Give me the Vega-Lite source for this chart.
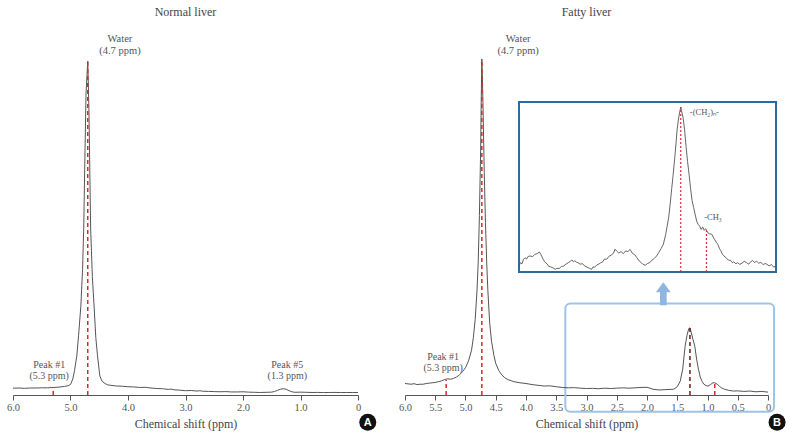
{
  "$schema": "https://vega.github.io/schema/vega-lite/v6.json",
  "padding": {"left": 6, "top": 5, "right": 4, "bottom": 0},
  "background": "white",
  "spacing": 47,
  "bounds": "flush",
  "config": {
    "view": {"stroke": null},
    "font": "Liberation Serif",
    "axis": {"grid": false},
    "axisX": {
      "domainColor": "#555", "tickColor": "#555", "tickSize": 5, "domainWidth": 1, "labelFlush": false, "labelOverlap": false,
      "labelFont": "Liberation Serif", "labelFontSize": 10.5, "labelColor": "#555", "labelPadding": 2,
      "titleFont": "Liberation Serif", "titleFontSize": 12, "titleFontWeight": "normal", "titleColor": "#444", "titlePadding": 6
    },
    "title": {"font": "Liberation Serif", "fontSize": 12, "fontWeight": "normal", "color": "#444", "baseline": "bottom", "offset": 15}
  },
  "datasets": {
    "normal": [
      {"ppm": 6.0, "signal": 1.9}, {"ppm": 5.9, "signal": 1.95}, {"ppm": 5.8, "signal": 1.85}, {"ppm": 5.7, "signal": 1.95},
      {"ppm": 5.6, "signal": 1.95}, {"ppm": 5.5, "signal": 2.0}, {"ppm": 5.4, "signal": 2.0}, {"ppm": 5.3, "signal": 2.1},
      {"ppm": 5.2, "signal": 2.2}, {"ppm": 5.1, "signal": 2.4}, {"ppm": 5.04, "signal": 2.6}, {"ppm": 5.0, "signal": 2.9},
      {"ppm": 4.96, "signal": 4.5}, {"ppm": 4.93, "signal": 6.8}, {"ppm": 4.89, "signal": 10.9}, {"ppm": 4.86, "signal": 16.5},
      {"ppm": 4.82, "signal": 24.8}, {"ppm": 4.79, "signal": 35}, {"ppm": 4.77, "signal": 46.5}, {"ppm": 4.75, "signal": 66},
      {"ppm": 4.73, "signal": 84}, {"ppm": 4.70, "signal": 93}, {"ppm": 4.68, "signal": 80}, {"ppm": 4.65, "signal": 46.5},
      {"ppm": 4.62, "signal": 33}, {"ppm": 4.59, "signal": 24.8}, {"ppm": 4.56, "signal": 16}, {"ppm": 4.53, "signal": 10.9},
      {"ppm": 4.49, "signal": 5.3}, {"ppm": 4.45, "signal": 3.8}, {"ppm": 4.40, "signal": 3.2}, {"ppm": 4.35, "signal": 2.8},
      {"ppm": 4.30, "signal": 2.7}, {"ppm": 4.2, "signal": 2.5}, {"ppm": 4.1, "signal": 2.45}, {"ppm": 4.0, "signal": 2.3},
      {"ppm": 3.9, "signal": 2.25}, {"ppm": 3.8, "signal": 2.1}, {"ppm": 3.7, "signal": 2.15}, {"ppm": 3.6, "signal": 1.95},
      {"ppm": 3.5, "signal": 1.8}, {"ppm": 3.4, "signal": 1.75}, {"ppm": 3.3, "signal": 1.55}, {"ppm": 3.25, "signal": 1.65},
      {"ppm": 3.2, "signal": 1.45}, {"ppm": 3.1, "signal": 1.35}, {"ppm": 3.0, "signal": 1.2}, {"ppm": 2.9, "signal": 1.25},
      {"ppm": 2.8, "signal": 1.1}, {"ppm": 2.75, "signal": 1.2}, {"ppm": 2.7, "signal": 1.05}, {"ppm": 2.6, "signal": 1.0},
      {"ppm": 2.5, "signal": 0.95}, {"ppm": 2.4, "signal": 0.9}, {"ppm": 2.3, "signal": 0.95}, {"ppm": 2.2, "signal": 0.85},
      {"ppm": 2.1, "signal": 0.85}, {"ppm": 2.0, "signal": 0.9}, {"ppm": 1.9, "signal": 0.8}, {"ppm": 1.8, "signal": 0.75},
      {"ppm": 1.7, "signal": 0.7}, {"ppm": 1.6, "signal": 0.75}, {"ppm": 1.5, "signal": 0.8}, {"ppm": 1.45, "signal": 1.0},
      {"ppm": 1.4, "signal": 1.3}, {"ppm": 1.35, "signal": 1.6}, {"ppm": 1.3, "signal": 1.75}, {"ppm": 1.25, "signal": 1.6},
      {"ppm": 1.2, "signal": 1.2}, {"ppm": 1.15, "signal": 0.9}, {"ppm": 1.1, "signal": 0.75}, {"ppm": 1.0, "signal": 0.8},
      {"ppm": 0.9, "signal": 0.75}, {"ppm": 0.8, "signal": 0.7}, {"ppm": 0.7, "signal": 0.72}, {"ppm": 0.6, "signal": 0.68},
      {"ppm": 0.5, "signal": 0.7}, {"ppm": 0.4, "signal": 0.72}, {"ppm": 0.3, "signal": 0.68}, {"ppm": 0.2, "signal": 0.7},
      {"ppm": 0.1, "signal": 0.7}, {"ppm": 0.0, "signal": 0.7}
    ],
    "fatty": [
      {"ppm": 6.0, "signal": 3.2}, {"ppm": 5.95, "signal": 3.1}, {"ppm": 5.9, "signal": 3.0}, {"ppm": 5.85, "signal": 3.15},
      {"ppm": 5.8, "signal": 2.9}, {"ppm": 5.75, "signal": 3.0}, {"ppm": 5.7, "signal": 3.0}, {"ppm": 5.65, "signal": 3.2},
      {"ppm": 5.6, "signal": 3.3}, {"ppm": 5.55, "signal": 3.4}, {"ppm": 5.5, "signal": 3.5}, {"ppm": 5.45, "signal": 3.7},
      {"ppm": 5.4, "signal": 3.9}, {"ppm": 5.35, "signal": 4.3}, {"ppm": 5.3, "signal": 4.5}, {"ppm": 5.25, "signal": 4.4},
      {"ppm": 5.2, "signal": 4.6}, {"ppm": 5.15, "signal": 5.0}, {"ppm": 5.1, "signal": 5.6}, {"ppm": 5.05, "signal": 6.5},
      {"ppm": 5.0, "signal": 7.6}, {"ppm": 4.95, "signal": 9.5}, {"ppm": 4.9, "signal": 12.5}, {"ppm": 4.87, "signal": 16},
      {"ppm": 4.84, "signal": 21}, {"ppm": 4.81, "signal": 29}, {"ppm": 4.79, "signal": 37}, {"ppm": 4.77, "signal": 50},
      {"ppm": 4.75, "signal": 68}, {"ppm": 4.74, "signal": 82}, {"ppm": 4.73, "signal": 93.6}, {"ppm": 4.72, "signal": 88},
      {"ppm": 4.71, "signal": 80}, {"ppm": 4.69, "signal": 62}, {"ppm": 4.67, "signal": 48}, {"ppm": 4.65, "signal": 37},
      {"ppm": 4.63, "signal": 29}, {"ppm": 4.6, "signal": 20}, {"ppm": 4.57, "signal": 15}, {"ppm": 4.53, "signal": 11},
      {"ppm": 4.5, "signal": 8.8}, {"ppm": 4.45, "signal": 6.8}, {"ppm": 4.4, "signal": 5.6}, {"ppm": 4.35, "signal": 4.8},
      {"ppm": 4.3, "signal": 4.3}, {"ppm": 4.2, "signal": 3.7}, {"ppm": 4.1, "signal": 3.4}, {"ppm": 4.0, "signal": 3.2},
      {"ppm": 3.9, "signal": 2.9}, {"ppm": 3.8, "signal": 2.7}, {"ppm": 3.7, "signal": 2.5}, {"ppm": 3.6, "signal": 2.55},
      {"ppm": 3.5, "signal": 2.3}, {"ppm": 3.4, "signal": 2.1}, {"ppm": 3.3, "signal": 2.0}, {"ppm": 3.2, "signal": 2.05},
      {"ppm": 3.1, "signal": 1.9}, {"ppm": 3.0, "signal": 1.8}, {"ppm": 2.9, "signal": 1.85}, {"ppm": 2.8, "signal": 1.75},
      {"ppm": 2.7, "signal": 1.9}, {"ppm": 2.6, "signal": 1.8}, {"ppm": 2.5, "signal": 1.9}, {"ppm": 2.4, "signal": 2.0},
      {"ppm": 2.3, "signal": 1.9}, {"ppm": 2.2, "signal": 2.0}, {"ppm": 2.1, "signal": 2.1}, {"ppm": 2.0, "signal": 2.15},
      {"ppm": 1.95, "signal": 1.9}, {"ppm": 1.9, "signal": 1.6}, {"ppm": 1.8, "signal": 1.4}, {"ppm": 1.7, "signal": 1.5},
      {"ppm": 1.62, "signal": 1.55}, {"ppm": 1.56, "signal": 1.6}, {"ppm": 1.5, "signal": 2.3}, {"ppm": 1.45, "signal": 3.9},
      {"ppm": 1.41, "signal": 7.2}, {"ppm": 1.37, "signal": 13.6}, {"ppm": 1.34, "signal": 16.5}, {"ppm": 1.31, "signal": 18.5},
      {"ppm": 1.29, "signal": 18.7}, {"ppm": 1.27, "signal": 17.5}, {"ppm": 1.24, "signal": 15.5}, {"ppm": 1.21, "signal": 13.6},
      {"ppm": 1.18, "signal": 10}, {"ppm": 1.15, "signal": 7.2}, {"ppm": 1.12, "signal": 5.0}, {"ppm": 1.09, "signal": 3.8},
      {"ppm": 1.06, "signal": 3.0}, {"ppm": 1.02, "signal": 2.6}, {"ppm": 0.99, "signal": 2.5}, {"ppm": 0.95, "signal": 2.9},
      {"ppm": 0.91, "signal": 3.4}, {"ppm": 0.88, "signal": 3.4}, {"ppm": 0.84, "signal": 3.0}, {"ppm": 0.8, "signal": 2.4},
      {"ppm": 0.77, "signal": 2.0}, {"ppm": 0.72, "signal": 1.6}, {"ppm": 0.65, "signal": 1.3}, {"ppm": 0.57, "signal": 1.1},
      {"ppm": 0.5, "signal": 1.15}, {"ppm": 0.4, "signal": 1.0}, {"ppm": 0.3, "signal": 1.1}, {"ppm": 0.2, "signal": 0.9},
      {"ppm": 0.1, "signal": 1.0}, {"ppm": 0.0, "signal": 0.8}
    ],
    "inset": [
      {"ppm": 3.4, "signal": 3.5}, {"ppm": 3.38, "signal": 5.5}, {"ppm": 3.36, "signal": 4.8}, {"ppm": 3.34, "signal": 7.5},
      {"ppm": 3.32, "signal": 8.4}, {"ppm": 3.3, "signal": 7.6}, {"ppm": 3.28, "signal": 9.2}, {"ppm": 3.25, "signal": 9.4},
      {"ppm": 3.22, "signal": 9.0}, {"ppm": 3.19, "signal": 10.4}, {"ppm": 3.16, "signal": 10.8}, {"ppm": 3.13, "signal": 11.8},
      {"ppm": 3.11, "signal": 10.2}, {"ppm": 3.08, "signal": 7.5}, {"ppm": 3.06, "signal": 6.0}, {"ppm": 3.03, "signal": 4.8},
      {"ppm": 3.01, "signal": 3.5}, {"ppm": 2.98, "signal": 3.0}, {"ppm": 2.95, "signal": 2.4}, {"ppm": 2.92, "signal": 1.6},
      {"ppm": 2.9, "signal": 2.2}, {"ppm": 2.87, "signal": 2.0}, {"ppm": 2.84, "signal": 3.2}, {"ppm": 2.81, "signal": 3.5},
      {"ppm": 2.78, "signal": 4.6}, {"ppm": 2.75, "signal": 5.4}, {"ppm": 2.72, "signal": 6.3}, {"ppm": 2.7, "signal": 7.1},
      {"ppm": 2.68, "signal": 6.0}, {"ppm": 2.66, "signal": 6.6}, {"ppm": 2.64, "signal": 5.8}, {"ppm": 2.62, "signal": 5.5},
      {"ppm": 2.59, "signal": 4.6}, {"ppm": 2.56, "signal": 4.9}, {"ppm": 2.53, "signal": 3.5}, {"ppm": 2.5, "signal": 2.9},
      {"ppm": 2.47, "signal": 2.2}, {"ppm": 2.44, "signal": 1.6}, {"ppm": 2.42, "signal": 3.0}, {"ppm": 2.4, "signal": 2.8},
      {"ppm": 2.37, "signal": 4.2}, {"ppm": 2.35, "signal": 4.5}, {"ppm": 2.32, "signal": 5.4}, {"ppm": 2.29, "signal": 6.1},
      {"ppm": 2.27, "signal": 7.6}, {"ppm": 2.24, "signal": 7.5}, {"ppm": 2.21, "signal": 9.2}, {"ppm": 2.18, "signal": 10.0},
      {"ppm": 2.15, "signal": 11.0}, {"ppm": 2.13, "signal": 13.4}, {"ppm": 2.11, "signal": 12.4}, {"ppm": 2.08, "signal": 11.2},
      {"ppm": 2.05, "signal": 12.0}, {"ppm": 2.02, "signal": 10.8}, {"ppm": 1.99, "signal": 12.4}, {"ppm": 1.96, "signal": 12.0},
      {"ppm": 1.93, "signal": 13.3}, {"ppm": 1.9, "signal": 11.0}, {"ppm": 1.87, "signal": 10.2}, {"ppm": 1.84, "signal": 8.4},
      {"ppm": 1.81, "signal": 6.5}, {"ppm": 1.78, "signal": 5.4}, {"ppm": 1.76, "signal": 4.5}, {"ppm": 1.73, "signal": 4.0},
      {"ppm": 1.7, "signal": 5.0}, {"ppm": 1.67, "signal": 5.5}, {"ppm": 1.64, "signal": 7.0}, {"ppm": 1.61, "signal": 8.0},
      {"ppm": 1.58, "signal": 9.4}, {"ppm": 1.55, "signal": 11.5}, {"ppm": 1.52, "signal": 13.8}, {"ppm": 1.49, "signal": 16.3},
      {"ppm": 1.46, "signal": 22}, {"ppm": 1.44, "signal": 27}, {"ppm": 1.42, "signal": 32}, {"ppm": 1.4, "signal": 40},
      {"ppm": 1.38, "signal": 49}, {"ppm": 1.36, "signal": 57.5}, {"ppm": 1.34, "signal": 67}, {"ppm": 1.32, "signal": 77},
      {"ppm": 1.31, "signal": 83}, {"ppm": 1.29, "signal": 90}, {"ppm": 1.27, "signal": 95}, {"ppm": 1.26, "signal": 97},
      {"ppm": 1.25, "signal": 95}, {"ppm": 1.23, "signal": 91}, {"ppm": 1.21, "signal": 84}, {"ppm": 1.19, "signal": 74},
      {"ppm": 1.17, "signal": 65}, {"ppm": 1.15, "signal": 57.5}, {"ppm": 1.13, "signal": 49}, {"ppm": 1.11, "signal": 42},
      {"ppm": 1.09, "signal": 38}, {"ppm": 1.07, "signal": 34}, {"ppm": 1.05, "signal": 30}, {"ppm": 1.03, "signal": 28},
      {"ppm": 1.01, "signal": 27}, {"ppm": 0.99, "signal": 25}, {"ppm": 0.97, "signal": 26.5}, {"ppm": 0.95, "signal": 24.5},
      {"ppm": 0.93, "signal": 25.5}, {"ppm": 0.92, "signal": 24.5}, {"ppm": 0.9, "signal": 23}, {"ppm": 0.88, "signal": 22.5},
      {"ppm": 0.85, "signal": 22.2}, {"ppm": 0.83, "signal": 20.5}, {"ppm": 0.81, "signal": 19}, {"ppm": 0.79, "signal": 17.5},
      {"ppm": 0.77, "signal": 16.3}, {"ppm": 0.75, "signal": 14}, {"ppm": 0.73, "signal": 12.5}, {"ppm": 0.71, "signal": 10.5},
      {"ppm": 0.69, "signal": 9.5}, {"ppm": 0.66, "signal": 8.4}, {"ppm": 0.63, "signal": 7.0}, {"ppm": 0.6, "signal": 6.8},
      {"ppm": 0.58, "signal": 5.5}, {"ppm": 0.56, "signal": 6.0}, {"ppm": 0.53, "signal": 4.8}, {"ppm": 0.51, "signal": 5.5},
      {"ppm": 0.48, "signal": 4.5}, {"ppm": 0.45, "signal": 5.2}, {"ppm": 0.42, "signal": 6.3}, {"ppm": 0.39, "signal": 5.5},
      {"ppm": 0.36, "signal": 4.6}, {"ppm": 0.34, "signal": 5.8}, {"ppm": 0.31, "signal": 6.7}, {"ppm": 0.28, "signal": 5.5},
      {"ppm": 0.26, "signal": 6.5}, {"ppm": 0.23, "signal": 5.2}, {"ppm": 0.2, "signal": 5.6}, {"ppm": 0.17, "signal": 4.4},
      {"ppm": 0.14, "signal": 5.0}, {"ppm": 0.12, "signal": 4.5}, {"ppm": 0.09, "signal": 3.6}, {"ppm": 0.06, "signal": 4.4},
      {"ppm": 0.03, "signal": 2.8}, {"ppm": 0.01, "signal": 3.5}
    ]
  },
  "hconcat": [
    {
      "width": 345,
      "height": 359,
      "title": {"text": "Normal liver"},
      "layer": [
        {
          "data": {"name": "normal"},
          "mark": {"type": "line", "color": "#555", "strokeWidth": 1},
          "encoding": {
            "x": {"field": "ppm", "type": "quantitative", "scale": {"domain": [6, 0], "nice": false, "zero": false},
              "axis": {"title": "Chemical shift (ppm)", "values": [6, 5.5, 5, 4.5, 4, 3.5, 3, 2.5, 2, 1.5, 1, 0.5, 0],
                "labelFont": "Liberation Serif", "titleFont": "Liberation Serif", "labelFlush": false,
                "labelExpr": "datum.value == 0 ? '0' : format(datum.value, '.1f')"}},
            "y": {"field": "signal", "type": "quantitative", "scale": {"domain": [0, 100], "nice": false}, "axis": null}
          }
        },
        {
          "data": {"values": [{"ppm": 4.70, "bottom": 0, "top": 93}, {"ppm": 5.3, "bottom": 0, "top": 2.1}]},
          "mark": {"type": "rule", "color": "#d42a2a", "strokeWidth": 1.5, "strokeDash": [4, 3]},
          "encoding": {
            "x": {"field": "ppm", "type": "quantitative"},
            "y": {"field": "bottom", "type": "quantitative"},
            "y2": {"field": "top"}
          }
        },
        {
          "data": {"values": [{"ppm": 4.14, "signal": 99.3, "label": "Water\n(4.7 ppm)"}]},
          "mark": {"type": "text", "font": "Liberation Serif", "fontSize": 10.5, "color": "#555", "lineBreak": "\n", "lineHeight": 12, "align": "center", "baseline": "middle"},
          "encoding": {
            "x": {"field": "ppm", "type": "quantitative"},
            "y": {"field": "signal", "type": "quantitative"},
            "text": {"field": "label"}
          }
        },
        {
          "data": {"values": [
            {"ppm": 5.37, "signal": 8.4, "label": "Peak #1\n(5.3 ppm)"},
            {"ppm": 1.23, "signal": 8.4, "label": "Peak #5\n(1.3 ppm)"}
          ]},
          "mark": {"type": "text", "font": "Liberation Serif", "fontSize": 10, "color": "#555", "lineBreak": "\n", "lineHeight": 11, "align": "center", "baseline": "middle"},
          "encoding": {
            "x": {"field": "ppm", "type": "quantitative"},
            "y": {"field": "signal", "type": "quantitative"},
            "text": {"field": "label"}
          }
        },
        {
          "data": {"values": [{"ppm": -0.17, "signal": -7.6, "label": "A"}]},
          "mark": {"type": "point", "shape": "circle", "filled": true, "color": "#111", "size": 289, "opacity": 1},
          "encoding": {"x": {"field": "ppm", "type": "quantitative"}, "y": {"field": "signal", "type": "quantitative"}}
        },
        {
          "data": {"values": [{"ppm": -0.17, "signal": -7.6, "label": "A"}]},
          "mark": {"type": "text", "color": "white", "font": "Liberation Sans", "fontWeight": "bold", "fontSize": 11, "baseline": "middle", "align": "center", "dy": 0.5},
          "encoding": {"x": {"field": "ppm", "type": "quantitative"}, "y": {"field": "signal", "type": "quantitative"}, "text": {"field": "label"}}
        }
      ]
    },
    {
      "width": 363,
      "height": 359,
      "title": {"text": "Fatty liver"},
      "resolve": {"scale": {"x": "independent", "y": "independent"}},
      "layer": [
        {
          "data": {"values": [{"x1": 3.35, "x2": -0.1, "y1": -4.7, "y2": 25.5}]},
          "mark": {"type": "rect", "filled": false, "stroke": "#9fc3e7", "strokeWidth": 2, "cornerRadius": 5},
          "encoding": {
            "x": {"field": "x1", "type": "quantitative", "scale": {"domain": [6, 0], "nice": false, "zero": false}, "axis": null},
            "x2": {"field": "x2"},
            "y": {"field": "y1", "type": "quantitative", "scale": {"domain": [0, 100], "nice": false}, "axis": null},
            "y2": {"field": "y2"}
          }
        },
        {
          "data": {"name": "fatty"},
          "mark": {"type": "line", "color": "#555", "strokeWidth": 1},
          "encoding": {
            "x": {"field": "ppm", "type": "quantitative", "scale": {"domain": [6, 0], "nice": false, "zero": false},
              "axis": {"title": "Chemical shift (ppm)", "values": [6, 5.5, 5, 4.5, 4, 3.5, 3, 2.5, 2, 1.5, 1, 0.5, 0],
                "labelFont": "Liberation Serif", "titleFont": "Liberation Serif", "labelFlush": false,
                "labelExpr": "datum.value == 0 ? '0' : format(datum.value, '.1f')"}},
            "y": {"field": "signal", "type": "quantitative", "scale": {"domain": [0, 100], "nice": false}, "axis": null}
          }
        },
        {
          "data": {"values": [
            {"ppm": 4.73, "bottom": 0, "top": 93.6},
            {"ppm": 5.32, "bottom": 0, "top": 4.2},
            {"ppm": 0.88, "bottom": 0, "top": 3.2}
          ]},
          "mark": {"type": "rule", "strokeWidth": 1.5, "strokeDash": [4, 3], "color": "#d42a2a"},
          "encoding": {
            "x": {"field": "ppm", "type": "quantitative", "scale": {"domain": [6, 0], "nice": false, "zero": false}, "axis": null},
            "y": {"field": "bottom", "type": "quantitative", "scale": {"domain": [0, 100], "nice": false}, "axis": null},
            "y2": {"field": "top"}
          }
        },
        {
          "data": {"values": [{"ppm": 1.29, "bottom": 0, "top": 18.7}]},
          "mark": {"type": "rule", "strokeWidth": 1.5, "strokeDash": [4, 3], "color": "#6e1a1a"},
          "encoding": {
            "x": {"field": "ppm", "type": "quantitative", "scale": {"domain": [6, 0], "nice": false, "zero": false}, "axis": null},
            "y": {"field": "bottom", "type": "quantitative", "scale": {"domain": [0, 100], "nice": false}, "axis": null},
            "y2": {"field": "top"}
          }
        },
        {
          "data": {"values": [{"ppm": 4.13, "signal": 99.3, "label": "Water\n(4.7 ppm)"}]},
          "mark": {"type": "text", "font": "Liberation Serif", "fontSize": 10.5, "color": "#555", "lineBreak": "\n", "lineHeight": 12, "align": "center", "baseline": "middle"},
          "encoding": {
            "x": {"field": "ppm", "type": "quantitative", "scale": {"domain": [6, 0], "nice": false, "zero": false}, "axis": null},
            "y": {"field": "signal", "type": "quantitative", "scale": {"domain": [0, 100], "nice": false}, "axis": null},
            "text": {"field": "label"}
          }
        },
        {
          "data": {"values": [{"ppm": 5.37, "signal": 10.7, "label": "Peak #1\n(5.3 ppm)"}]},
          "mark": {"type": "text", "font": "Liberation Serif", "fontSize": 10, "color": "#555", "lineBreak": "\n", "lineHeight": 11, "align": "center", "baseline": "middle"},
          "encoding": {
            "x": {"field": "ppm", "type": "quantitative", "scale": {"domain": [6, 0], "nice": false, "zero": false}, "axis": null},
            "y": {"field": "signal", "type": "quantitative", "scale": {"domain": [0, 100], "nice": false}, "axis": null},
            "text": {"field": "label"}
          }
        },
        {
          "data": {"values": [{"ppm": 1.73, "signal": 28.2}]},
          "mark": {"type": "point", "filled": true, "color": "#8fb6e0", "opacity": 1, "size": 529,
            "shape": "M-0.29,1L-0.29,-0.13L-0.65,-0.13L0,-1L0.65,-0.13L0.29,-0.13L0.29,1Z"},
          "encoding": {
            "x": {"field": "ppm", "type": "quantitative", "scale": {"domain": [6, 0], "nice": false, "zero": false}, "axis": null},
            "y": {"field": "signal", "type": "quantitative", "scale": {"domain": [0, 100], "nice": false}, "axis": null}
          }
        },
        {
          "data": {"values": [{"ppm": -0.15, "signal": -7.6, "label": "B"}]},
          "mark": {"type": "point", "shape": "circle", "filled": true, "color": "#111", "size": 289, "opacity": 1},
          "encoding": {
            "x": {"field": "ppm", "type": "quantitative", "scale": {"domain": [6, 0], "nice": false, "zero": false}, "axis": null},
            "y": {"field": "signal", "type": "quantitative", "scale": {"domain": [0, 100], "nice": false}, "axis": null}
          }
        },
        {
          "data": {"values": [{"ppm": -0.15, "signal": -7.6, "label": "B"}]},
          "mark": {"type": "text", "color": "white", "font": "Liberation Sans", "fontWeight": "bold", "fontSize": 11, "baseline": "middle", "align": "center", "dy": 0.5},
          "encoding": {
            "x": {"field": "ppm", "type": "quantitative", "scale": {"domain": [6, 0], "nice": false, "zero": false}, "axis": null},
            "y": {"field": "signal", "type": "quantitative", "scale": {"domain": [0, 100], "nice": false}, "axis": null},
            "text": {"field": "label"}
          }
        },
        {
          "data": {"values": [{"x1": 3.4, "x2": 0, "y1": 0, "y2": 100}]},
          "mark": {"type": "rect", "filled": false, "stroke": "#2d6aa0", "strokeWidth": 2},
          "encoding": {
            "x": {"field": "x1", "type": "quantitative", "scale": {"domain": [3.4, 0], "range": [114, 371], "nice": false, "zero": false}, "axis": null},
            "x2": {"field": "x2"},
            "y": {"field": "y1", "type": "quantitative", "scale": {"domain": [0, 100], "range": [236, 66], "nice": false}, "axis": null},
            "y2": {"field": "y2"}
          }
        },
        {
          "data": {"name": "inset"},
          "mark": {"type": "line", "color": "#555", "strokeWidth": 0.9},
          "encoding": {
            "x": {"field": "ppm", "type": "quantitative", "scale": {"domain": [3.4, 0], "range": [114, 371], "nice": false, "zero": false}, "axis": null},
            "y": {"field": "signal", "type": "quantitative", "scale": {"domain": [0, 100], "range": [236, 66], "nice": false}, "axis": null}
          }
        },
        {
          "data": {"values": [{"ppm": 1.26, "bottom": 0, "top": 97}, {"ppm": 0.92, "bottom": 0, "top": 24.5}]},
          "mark": {"type": "rule", "color": "#d42a2a", "strokeWidth": 1.2, "strokeDash": [2, 2]},
          "encoding": {
            "x": {"field": "ppm", "type": "quantitative", "scale": {"domain": [3.4, 0], "range": [114, 371], "nice": false, "zero": false}, "axis": null},
            "y": {"field": "bottom", "type": "quantitative", "scale": {"domain": [0, 100], "range": [236, 66], "nice": false}, "axis": null},
            "y2": {"field": "top"}
          }
        },
        {
          "data": {"values": [
            {"ppm": 1.14, "signal": 94, "label": "-(CH₂)ₙ-"},
            {"ppm": 0.95, "signal": 32.4, "label": "-CH₃"}
          ]},
          "mark": {"type": "text", "font": "Liberation Serif", "fontSize": 8.5, "color": "#555", "align": "left", "baseline": "middle"},
          "encoding": {
            "x": {"field": "ppm", "type": "quantitative", "scale": {"domain": [3.4, 0], "range": [114, 371], "nice": false, "zero": false}, "axis": null},
            "y": {"field": "signal", "type": "quantitative", "scale": {"domain": [0, 100], "range": [236, 66], "nice": false}, "axis": null},
            "text": {"field": "label"}
          }
        }
      ]
    }
  ]
}
